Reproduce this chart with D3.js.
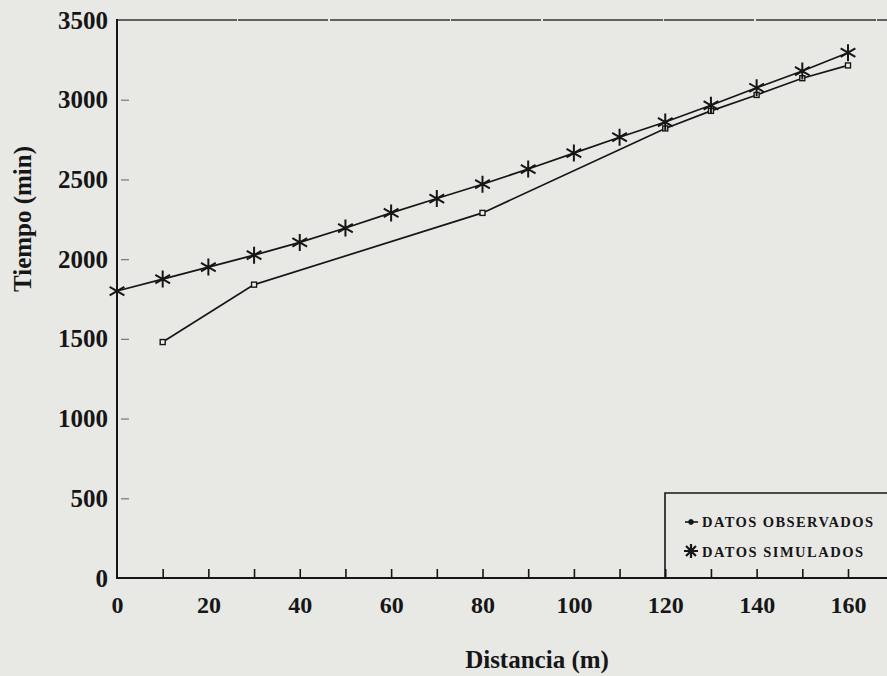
<!DOCTYPE html>
<html>
<head>
<meta charset="utf-8">
<script src="https://cdn.jsdelivr.net/npm/d3@7"></script>
<style>
  html, body { margin: 0; padding: 0; background: #e8e8e5; }
  #canvas { width: 887px; height: 676px; overflow: hidden; }
  text { font-family: "Liberation Serif", "Times New Roman", serif; font-weight: bold; fill: #161616; }
</style>
</head>
<body>
<div id="canvas"></div>
<script>
// distancia (m) and tiempo (min)
var simDist = [0, 10, 20, 30, 40, 50, 60, 70, 80, 90, 100, 110, 120, 130, 140, 150, 160];
var simTime = [1800, 1875, 1950, 2025, 2105, 2195, 2290, 2380, 2470, 2565, 2665, 2765, 2860, 2965, 3075, 3180, 3295];
var obsDist = [10, 30, 80, 120, 130, 140, 150, 160];
var obsTime = [1480, 1840, 2290, 2820, 2930, 3030, 3135, 3215];
var xTicks = [0, 20, 40, 60, 80, 100, 120, 140, 160];
var yTicks = [0, 500, 1000, 1500, 2000, 2500, 3000, 3500];
var legendLabels = ["DATOS OBSERVADOS", "DATOS SIMULADOS"];

var w = 887;
var h = 676;
var ink = "#161616";

var svg = d3.select("#canvas")
    .append("svg")
    .attr("width", w)
    .attr("height", h);

var x = d3.scaleLinear().domain([0, 160]).range([117, 848]);
var y = d3.scaleLinear().domain([0, 3500]).range([578, 20]);

// small star like the old plotting package draws
function star(cx, cy, r, arms) {
    var p = "";
    for (var i = 0; i < arms; i++) {
        var a = Math.PI * i / arms + Math.PI / 2;
        p += "M" + (cx + r * Math.cos(a)) + "," + (cy + r * Math.sin(a)) +
             "L" + (cx - r * Math.cos(a)) + "," + (cy - r * Math.sin(a));
    }
    return p;
}

// frame top line
svg.append("line")
    .attr("x1", x(0)).attr("x2", w)
    .attr("y1", y(3500)).attr("y2", y(3500))
    .attr("stroke", "#333")
    .attr("stroke-width", 1.6)
    .attr("stroke-dasharray", "120,1,90,2");

// x axis
var xAxis = svg.append("g")
    .attr("transform", "translate(0," + y(0) + ")")
    .call(d3.axisBottom(x)
        .tickValues(d3.range(0, 180, 10))
        .tickSize(-9)
        .tickPadding(18)
        .tickFormat(function (d) { return xTicks.indexOf(d) >= 0 ? d : ""; }));
xAxis.select(".domain").remove();
xAxis.selectAll(".tick line").attr("stroke", ink).attr("stroke-width", 1.6);
xAxis.selectAll(".tick line").filter(function (d) { return d === 0; }).remove();
xAxis.selectAll("text").attr("font-size", 24).attr("font-family", null);
svg.append("line")
    .attr("x1", x(0) - 1).attr("x2", w)
    .attr("y1", y(0)).attr("y2", y(0))
    .attr("stroke", ink).attr("stroke-width", 2);

// y axis
var yAxis = svg.append("g")
    .attr("transform", "translate(" + x(0) + ",0)")
    .call(d3.axisLeft(y)
        .tickValues(yTicks)
        .tickSize(0)
        .tickPadding(9)
        .tickFormat(d3.format("d")));
yAxis.select(".domain").remove();
yAxis.selectAll("text").attr("font-size", 25).attr("font-family", null);
yAxis.selectAll(".tick").filter(function (d) { return d > 0 && d < 3500; })
    .append("line")
    .attr("x1", 4).attr("x2", 12)
    .attr("stroke", "#777")
    .attr("stroke-width", 1.2);
svg.append("line")
    .attr("x1", x(0)).attr("x2", x(0))
    .attr("y1", y(3500) - 1).attr("y2", y(0) + 1)
    .attr("stroke", ink).attr("stroke-width", 2);

// axis titles
svg.append("text")
    .attr("x", 537).attr("y", 668)
    .attr("text-anchor", "middle")
    .attr("font-size", 25)
    .text("Distancia (m)");
svg.append("text")
    .attr("transform", "translate(31,219) rotate(-90)")
    .attr("text-anchor", "middle")
    .attr("font-size", 25)
    .text("Tiempo (min)");

var line = d3.line()
    .x(function (d) { return x(d[0]); })
    .y(function (d) { return y(d[1]); });

var simData = simDist.map(function (d, i) { return [d, simTime[i]]; });
var obsData = obsDist.map(function (d, i) { return [d, obsTime[i]]; });

svg.append("path")
    .datum(obsData)
    .attr("d", line)
    .attr("fill", "none")
    .attr("stroke", ink)
    .attr("stroke-width", 1.7);
svg.append("path")
    .datum(simData)
    .attr("d", line)
    .attr("fill", "none")
    .attr("stroke", ink)
    .attr("stroke-width", 1.7);

svg.selectAll(".obs")
    .data(obsData)
    .join("rect")
    .attr("class", "obs")
    .attr("x", function (d) { return x(d[0]) - 2.5; })
    .attr("y", function (d) { return y(d[1]) - 2.5; })
    .attr("width", 5).attr("height", 5)
    .attr("fill", "#f0f0ee")
    .attr("stroke", ink)
    .attr("stroke-width", 1.4);

svg.selectAll(".sim")
    .data(simData)
    .join("path")
    .attr("class", "sim")
    .attr("d", function (d) { return star(x(d[0]), y(d[1]), 8.5, 3); })
    .attr("stroke", ink)
    .attr("stroke-width", 2);

// legend box, runs off the right side like the scan
var lg = svg.append("g");
lg.append("path")
    .attr("d", "M665," + y(0) + "V493H" + w)
    .attr("fill", "none")
    .attr("stroke", ink)
    .attr("stroke-width", 1.6);
lg.append("line")
    .attr("x1", 685).attr("x2", 698)
    .attr("y1", 522).attr("y2", 522)
    .attr("stroke", ink).attr("stroke-width", 1.6);
lg.append("circle")
    .attr("cx", 691).attr("cy", 522).attr("r", 2.4)
    .attr("fill", ink).attr("stroke", ink).attr("stroke-width", 1);
lg.append("path")
    .attr("d", star(691, 551, 7, 4))
    .attr("stroke", ink).attr("stroke-width", 2.2);
lg.selectAll(".lab")
    .data(legendLabels)
    .join("text")
    .attr("class", "lab")
    .attr("x", 702)
    .attr("y", function (d, i) { return 527 + i * 30; })
    .attr("font-size", 14.5)
    .attr("textLength", function (d, i) { return i === 0 ? 171 : 161; })
    .attr("lengthAdjust", "spacing")
    .text(function (d) { return d; });
</script>
</body>
</html>
